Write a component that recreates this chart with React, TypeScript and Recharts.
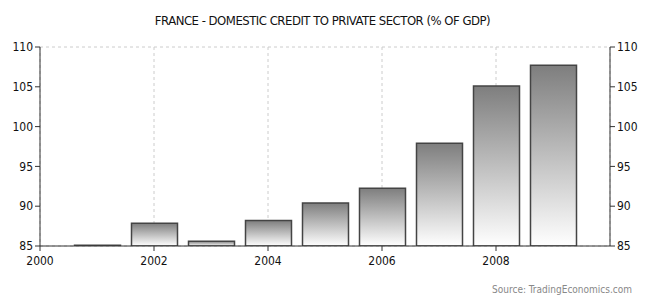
import React from 'react';
import { BarChart, Bar, Line, XAxis, YAxis, CartesianGrid } from 'recharts';

const years = [2001, 2002, 2003, 2004, 2005, 2006, 2007, 2008, 2009];
const credit = [85.1, 87.85, 85.6, 88.2, 90.4, 92.25, 97.9, 105.1, 107.7];
const xTicks = [2000, 2002, 2004, 2006, 2008];
const yTicks = [85, 90, 95, 100, 105, 110];

const data = years.map((year, i) => ({ year, value: credit[i] }));

const FONT = '"DejaVu Sans Condensed", "DejaVu Sans", sans-serif';
const tickStyle = { fill: '#111', fontSize: 12, fontFamily: FONT };

export default function App() {
    return (
        <div style={{ position: 'absolute', left: 0, top: 0, width: 645, height: 305, background: '#fff' }}>
            <div
                style={{
                    position: 'absolute',
                    top: 13,
                    left: 0,
                    width: 645,
                    textAlign: 'center',
                    fontFamily: FONT,
                    fontSize: 13,
                    letterSpacing: -0.5,
                    color: '#111',
                }}
            >
                FRANCE - DOMESTIC CREDIT TO PRIVATE SECTOR (% OF GDP)
            </div>
            <BarChart
                width={645}
                height={305}
                data={data}
                margin={{ top: 47, right: 0, left: 0, bottom: 29 }}
            >
                <defs>
                    <linearGradient id="barFill" x1="0" y1="0" x2="0" y2="1">
                        <stop offset="0%" stopColor="#7e7e7e" />
                        <stop offset="100%" stopColor="#ffffff" />
                    </linearGradient>
                </defs>
                <CartesianGrid stroke="#cccccc" strokeDasharray="3 3" />
                <XAxis
                    dataKey="year"
                    type="number"
                    domain={[2000, 2010]}
                    ticks={xTicks}
                    height={30}
                    tickSize={5}
                    tick={{ ...tickStyle, dy: 3 }}
                    stroke="#333"
                    allowDataOverflow
                />
                <YAxis
                    yAxisId="left"
                    domain={[85, 110]}
                    ticks={yTicks}
                    width={40}
                    tickSize={5}
                    tick={tickStyle}
                    stroke="#333"
                    allowDataOverflow
                />
                <YAxis
                    yAxisId="right"
                    orientation="right"
                    domain={[85, 110]}
                    ticks={yTicks}
                    width={35}
                    tickSize={5}
                    tick={{ ...tickStyle, textAnchor: 'start' }}
                    stroke="#333"
                    allowDataOverflow
                />
                <Bar
                    yAxisId="left"
                    dataKey="value"
                    barSize={46}
                    fill="url(#barFill)"
                    stroke="#444"
                    strokeWidth={1.5}
                    isAnimationActive={false}
                />
                <Line
                    yAxisId="right"
                    dataKey="value"
                    stroke="none"
                    dot={false}
                    activeDot={false}
                    isAnimationActive={false}
                />
            </BarChart>
            <div
                style={{
                    position: 'absolute',
                    top: 284,
                    right: 13,
                    fontFamily: FONT,
                    fontSize: 10,
                    color: '#888',
                }}
            >
                Source: TradingEconomics.com
            </div>
        </div>
    );
}
